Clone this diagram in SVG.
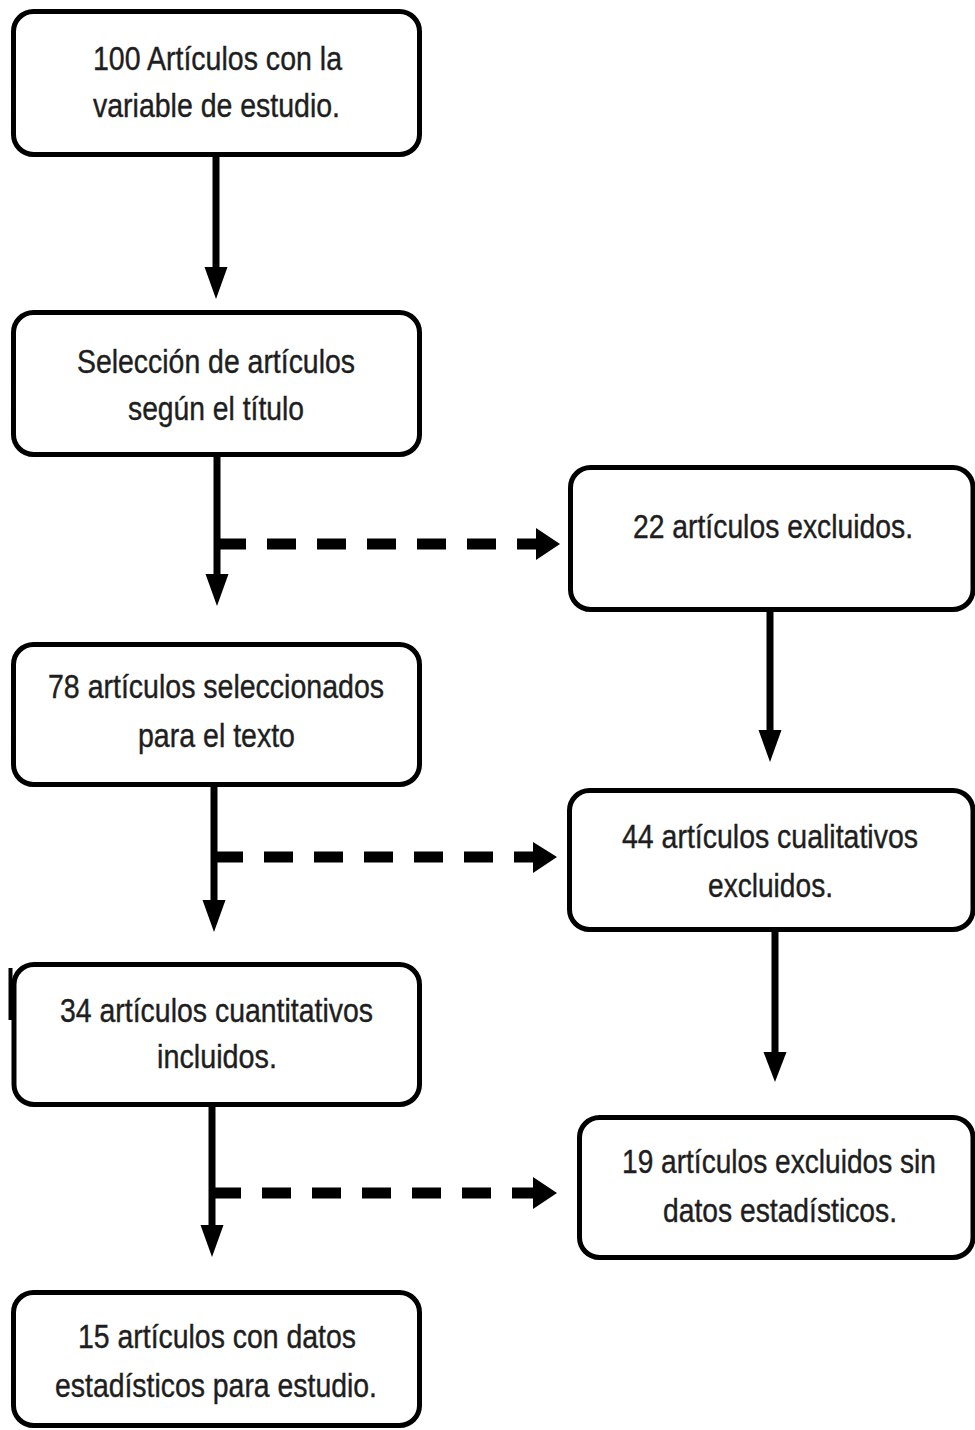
<svg xmlns="http://www.w3.org/2000/svg" width="975" height="1430" viewBox="0 0 975 1430">
<style>
.box{fill:#ffffff;stroke:#000000;stroke-width:5}
.lbl{font-family:"Liberation Sans",Arial,sans-serif;font-size:33px;fill:#1e1e1e;stroke:#1e1e1e;stroke-width:0.4;text-anchor:middle}
.solid{stroke:#000000;stroke-width:7;fill:none}
.dash{stroke:#000000;stroke-width:11;fill:none;stroke-dasharray:29 21}
.head{fill:#000000;stroke:none}
</style>
<rect width="975" height="1430" fill="#ffffff"/>
<g id="connectors">
  <line class="solid" x1="216" y1="157" x2="216" y2="270"/>
  <polygon class="head" points="204.5,267 227.5,267 216,299"/>
  <line class="solid" x1="217" y1="457" x2="217" y2="577"/>
  <polygon class="head" points="205.5,574 228.5,574 217,606"/>
  <line class="dash" x1="217" y1="544" x2="538" y2="544"/>
  <polygon class="head" points="536,528 536,560 560,544"/>
  <line class="solid" x1="770" y1="612" x2="770" y2="733"/>
  <polygon class="head" points="758.5,730 781.5,730 770,762"/>
  <line class="solid" x1="214" y1="787" x2="214" y2="903"/>
  <polygon class="head" points="202.5,900 225.5,900 214,932"/>
  <line class="dash" x1="214" y1="857" x2="535" y2="857"/>
  <polygon class="head" points="533,842 533,873 557,857"/>
  <line class="solid" x1="775" y1="932" x2="775" y2="1055"/>
  <polygon class="head" points="763.5,1052 786.5,1052 775,1082"/>
  <line class="solid" x1="212" y1="1107" x2="212" y2="1228"/>
  <polygon class="head" points="200.5,1225 223.5,1225 212,1257"/>
  <line class="dash" x1="212" y1="1193" x2="535" y2="1193"/>
  <polygon class="head" points="533,1177 533,1209 557,1193"/>
</g>
<g id="n1">
  <rect class="box" x="13.5" y="11.5" width="406" height="143" rx="20"/>
  <text class="lbl" x="217.5" y="70" textLength="249" lengthAdjust="spacingAndGlyphs">100 Artículos con la</text>
  <text class="lbl" x="216.5" y="117" textLength="247" lengthAdjust="spacingAndGlyphs">variable de estudio.</text>
</g>
<g id="n2">
  <rect class="box" x="13.5" y="312.5" width="406" height="142" rx="20"/>
  <text class="lbl" x="216" y="373" textLength="278" lengthAdjust="spacingAndGlyphs">Selección de artículos</text>
  <text class="lbl" x="216" y="420" textLength="176" lengthAdjust="spacingAndGlyphs">según el título</text>
</g>
<g id="n3">
  <rect class="box" x="13.5" y="644.5" width="406" height="140" rx="20"/>
  <text class="lbl" x="216" y="698" textLength="336" lengthAdjust="spacingAndGlyphs">78 artículos seleccionados</text>
  <text class="lbl" x="216.5" y="747" textLength="157" lengthAdjust="spacingAndGlyphs">para el texto</text>
</g>
<g id="n4">
  <line x1="10.5" y1="968" x2="10.5" y2="1020" stroke="#000000" stroke-width="4"/>
  <rect class="box" x="14" y="964.5" width="405.5" height="140" rx="20"/>
  <text class="lbl" x="216.5" y="1022" textLength="313" lengthAdjust="spacingAndGlyphs">34 artículos cuantitativos</text>
  <text class="lbl" x="217" y="1068" textLength="120" lengthAdjust="spacingAndGlyphs">incluidos.</text>
</g>
<g id="n5">
  <rect class="box" x="13.5" y="1292.5" width="406" height="133" rx="20"/>
  <text class="lbl" x="217" y="1348" textLength="278" lengthAdjust="spacingAndGlyphs">15 artículos con datos</text>
  <text class="lbl" x="216" y="1397" textLength="322" lengthAdjust="spacingAndGlyphs">estadísticos para estudio.</text>
</g>
<g id="n6">
  <rect class="box" x="570.5" y="467.5" width="402.5" height="142" rx="20"/>
  <text class="lbl" x="773" y="538" textLength="280" lengthAdjust="spacingAndGlyphs">22 artículos excluidos.</text>
</g>
<g id="n7">
  <rect class="box" x="569.5" y="790.5" width="403.5" height="139" rx="20"/>
  <text class="lbl" x="770" y="848" textLength="296" lengthAdjust="spacingAndGlyphs">44 artículos cualitativos</text>
  <text class="lbl" x="770.5" y="897" textLength="125" lengthAdjust="spacingAndGlyphs">excluidos.</text>
</g>
<g id="n8">
  <rect class="box" x="579.5" y="1117.5" width="393.5" height="140" rx="20"/>
  <text class="lbl" x="779" y="1173" textLength="314" lengthAdjust="spacingAndGlyphs">19 artículos excluidos sin</text>
  <text class="lbl" x="780" y="1222" textLength="234" lengthAdjust="spacingAndGlyphs">datos estadísticos.</text>
</g>
</svg>
